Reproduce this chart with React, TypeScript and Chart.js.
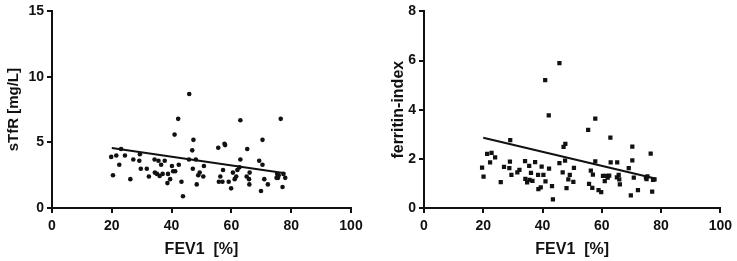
import React, { useEffect, useRef } from "react";
import { Chart, registerables } from "chart.js";

Chart.register(...registerables);

// Left panel: FEV1 [%] vs sTfR [mg/L]
const fev1Left = [19.8, 20.4, 21.5, 22.5, 23.1, 24.4, 26.2, 27.2, 29.4, 29.2, 29.7, 31.7, 32.4, 34.3, 34.4, 35.1, 35.6, 36.0, 36.5, 37.0, 37.7, 38.8, 38.6, 39.5, 40.1, 40.5, 41.2, 41.0, 42.2, 42.4, 43.3, 43.8, 45.9, 45.8, 46.9, 47.3, 47.1, 48.1, 48.4, 48.9, 49.4, 50.6, 50.8, 55.6, 55.8, 56.3, 57.0, 57.2, 57.7, 57.9, 59.1, 59.9, 60.5, 61.1, 61.6, 62.0, 62.7, 63.0, 63.0, 65.3, 65.1, 65.9, 66.1, 66.0, 69.3, 69.9, 70.4, 70.4, 71.0, 72.2, 75.1, 75.3, 75.8, 76.5, 77.1, 77.4, 78.0, 75.6];
const stfr = [3.9, 2.5, 4.0, 3.3, 4.5, 4.0, 2.2, 3.7, 4.1, 3.6, 3.0, 3.0, 2.4, 3.7, 2.7, 2.6, 3.6, 2.45, 3.3, 2.6, 3.6, 2.6, 1.9, 2.2, 3.2, 2.8, 2.8, 5.6, 6.8, 3.3, 2.0, 0.9, 8.7, 3.7, 4.4, 5.2, 3.0, 3.7, 1.8, 2.5, 2.7, 2.4, 3.2, 4.6, 2.0, 2.4, 2.0, 2.9, 4.9, 4.8, 2.0, 1.5, 2.7, 2.2, 2.4, 2.9, 3.1, 6.7, 3.7, 4.5, 2.4, 2.2, 2.7, 1.8, 3.6, 1.3, 3.3, 5.2, 2.2, 1.8, 2.3, 2.6, 2.5, 6.8, 1.6, 2.6, 2.3, 2.3];
const stfrFitX = [20, 78];
const stfrFitY = [4.58, 2.65];

// Right panel: FEV1 [%] vs ferritin-index
const fev1Right = [19.6, 20.1, 21.3, 22.3, 22.8, 24.0, 25.9, 27.0, 29.1, 29.0, 28.8, 29.5, 31.5, 32.2, 34.1, 34.2, 34.8, 35.5, 35.6, 36.1, 36.6, 37.5, 38.5, 38.6, 39.4, 39.7, 40.3, 40.9, 41.0, 42.1, 42.2, 43.2, 43.5, 45.7, 45.7, 46.8, 47.1, 47.7, 47.6, 48.1, 48.7, 49.2, 50.4, 50.6, 55.4, 55.7, 56.3, 57.0, 56.8, 57.8, 57.8, 58.9, 59.8, 60.4, 61.0, 61.4, 62.0, 62.5, 62.9, 63.0, 65.2, 65.1, 65.7, 65.9, 66.1, 69.1, 69.8, 70.3, 70.3, 70.8, 72.2, 74.9, 75.1, 75.4, 76.5, 77.0, 77.3, 77.8];
const ferritinIndex = [1.64, 1.28, 2.2, 1.86, 2.24, 2.06, 1.05, 1.67, 2.76, 1.89, 1.62, 1.35, 1.45, 1.55, 1.91, 1.19, 1.04, 1.71, 1.14, 1.43, 1.10, 1.87, 1.35, 0.77, 0.84, 1.68, 1.35, 5.2, 1.08, 3.77, 1.6, 0.89, 0.35, 5.9, 1.83, 1.45, 2.49, 2.61, 1.93, 0.81, 1.16, 1.35, 1.06, 1.63, 3.18, 0.98, 1.52, 1.36, 0.82, 3.64, 1.9, 0.73, 0.65, 1.31, 1.09, 1.31, 1.24, 1.32, 2.86, 1.86, 1.86, 1.25, 1.35, 1.16, 0.96, 1.62, 0.51, 2.5, 1.94, 1.24, 0.73, 1.24, 1.17, 1.29, 2.21, 0.67, 1.14, 1.16];
const ferritinFitX = [20, 78];
const ferritinFitY = [2.86, 1.2];

const xTitle = "FEV1  [%]";
const FONT = "'Liberation Sans', Arial, sans-serif";
const INK = "#111";

type PanelProps = {
  xs: number[];
  ys: number[];
  fitX: number[];
  fitY: number[];
  yMax: number;
  yStep: number;
  yTitle: string;
  yTitleSize: number;
  pointStyle: "circle" | "rect";
  radius: number;
  padLeft: number;
  yWidth: number;
  padRight: number;
  left: number;
};

function Panel(p: PanelProps) {
  const ref = useRef<HTMLCanvasElement | null>(null);
  useEffect(() => {
    if (!ref.current) return;
    const pts = p.xs.map((x, i) => ({ x, y: p.ys[i] }));
    const fit = p.fitX.map((x, i) => ({ x, y: p.fitY[i] }));
    const chart = new Chart(ref.current, {
      type: "scatter",
      data: {
        datasets: [
          {
            data: pts,
            pointStyle: p.pointStyle,
            pointRadius: p.radius,
            pointBackgroundColor: INK,
            pointBorderColor: INK,
            pointBorderWidth: 0,
            showLine: false,
          },
          {
            data: fit,
            showLine: true,
            borderColor: INK,
            borderWidth: 2,
            pointRadius: 0,
            fill: false,
          },
        ],
      },
      options: {
        responsive: false,
        animation: false,
        layout: { padding: { left: p.padLeft, top: 10, right: p.padRight, bottom: 0 } },
        plugins: { legend: { display: false }, tooltip: { enabled: false } },
        scales: {
          x: {
            type: "linear",
            min: 0,
            max: 100,
            afterFit: (s: any) => {
              s.height = 53;
            },
            ticks: {
              stepSize: 20,
              color: INK,
              font: { family: FONT, size: 14, weight: "bold" },
              padding: 5,
              maxRotation: 0,
            },
            grid: {
              drawOnChartArea: false,
              drawTicks: true,
              tickLength: 5,
              color: INK,
              lineWidth: 2,
            },
            border: { display: true, color: INK, width: 2 },
            title: {
              display: true,
              text: xTitle,
              color: INK,
              font: { family: FONT, size: 16, weight: "bold" },
              padding: { top: 0, bottom: 2 },
            },
          },
          y: {
            type: "linear",
            min: 0,
            max: p.yMax,
            afterFit: (s: any) => {
              s.width = p.yWidth;
            },
            ticks: {
              stepSize: p.yStep,
              color: INK,
              font: { family: FONT, size: 14, weight: "bold" },
              padding: 3,
            },
            grid: {
              drawOnChartArea: false,
              drawTicks: true,
              tickLength: 5,
              color: INK,
              lineWidth: 2,
            },
            border: { display: true, color: INK, width: 2 },
            title: {
              display: true,
              text: p.yTitle,
              color: INK,
              font: { family: FONT, size: p.yTitleSize, weight: "bold" },
              padding: { top: 4, bottom: 0 },
            },
          },
        },
      },
    });
    return () => chart.destroy();
  }, []);
  return (
    <canvas
      ref={ref}
      width={368}
      height={261}
      style={{ position: "absolute", left: p.left, top: 0, width: 368, height: 261 }}
    />
  );
}

export default function App() {
  return (
    <div style={{ position: "fixed", left: 0, top: 0, width: 737, height: 261, background: "#fff" }}>
      <Panel
        xs={fev1Left}
        ys={stfr}
        fitX={stfrFitX}
        fitY={stfrFitY}
        yMax={15}
        yStep={5}
        yTitle="sTfR [mg/L]"
        yTitleSize={15}
        pointStyle="circle"
        radius={2.3}
        padLeft={1}
        yWidth={51}
        padRight={17}
        left={0}
      />
      <Panel
        xs={fev1Right}
        ys={ferritinIndex}
        fitX={ferritinFitX}
        fitY={ferritinFitY}
        yMax={8}
        yStep={2}
        yTitle="ferritin-index"
        yTitleSize={16}
        pointStyle="rect"
        radius={3}
        padLeft={16}
        yWidth={39}
        padRight={16}
        left={369}
      />
    </div>
  );
}
